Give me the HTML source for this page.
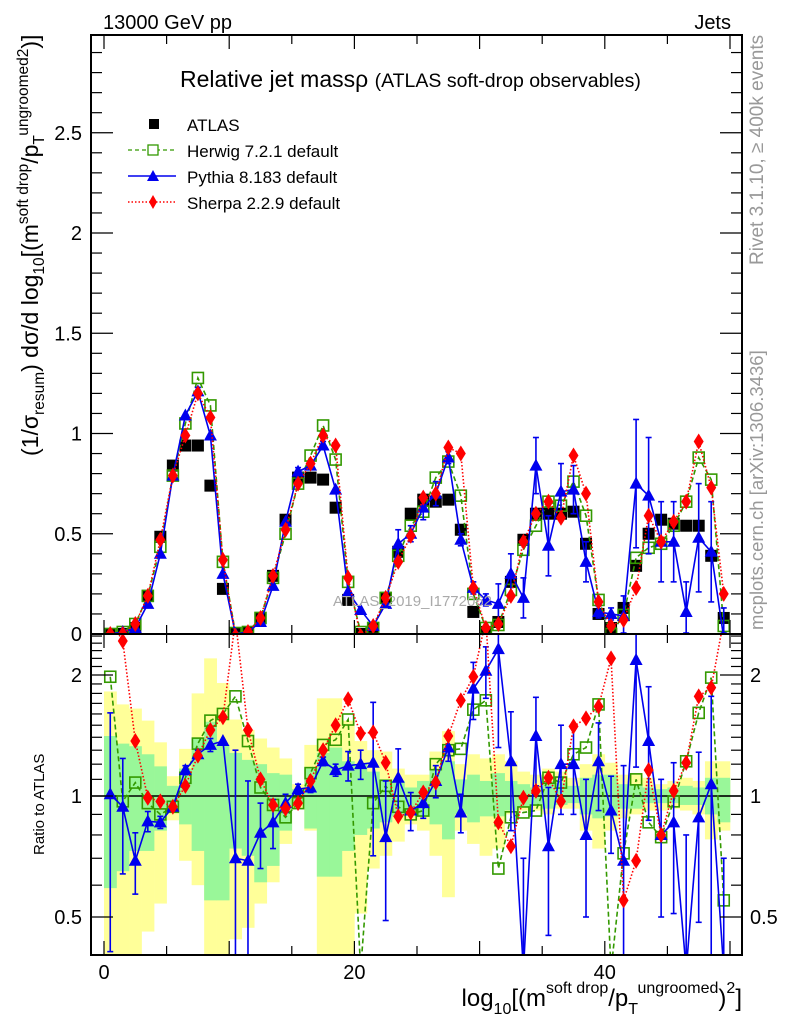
<!DOCTYPE html>
<html><head><meta charset="utf-8"><style>
html,body{margin:0;padding:0;background:#fff;width:786px;height:1024px;overflow:hidden;}
svg{display:block;font-family:"Liberation Sans",Arial,sans-serif;}
</style></head><body>
<svg id="chart" width="786" height="1024" viewBox="0 0 786 1024" xmlns="http://www.w3.org/2000/svg">
<defs>
<clipPath id="clipMain"><rect x="91" y="35" width="651" height="599"/></clipPath>
<clipPath id="clipRatio"><rect x="91" y="635" width="651" height="320"/></clipPath>
</defs>
<g id="ratioBands" clip-path="url(#clipRatio)"></g>
<g id="mainMarks" clip-path="url(#clipMain)"></g>
<g id="ratioMarks" clip-path="url(#clipRatio)"></g>
<g id="axes"></g>

<text x="103" y="29" font-size="20">13000 GeV pp</text>
<text x="731" y="29" font-size="20" text-anchor="end">Jets</text>
<text x="180" y="87" font-size="23">Relative jet massρ <tspan font-size="19.5">(ATLAS soft-drop observables)</tspan></text>
<text x="333" y="606" font-size="15" fill="#aaa">ATLAS_2019_I1772062</text>
<text transform="translate(763,265) rotate(-90)" font-size="19" fill="#999">Rivet 3.1.10, ≥ 400k events</text>
<text transform="translate(763,630) rotate(-90)" font-size="18.5" fill="#999">mcplots.cern.ch [arXiv:1306.3436]</text>
<text transform="translate(38,456) rotate(-90)" font-size="23">(1/σ<tspan font-size="15.5" dy="6">resum</tspan><tspan dy="-6">) dσ/d log</tspan><tspan font-size="15.5" dy="6">10</tspan><tspan dy="-6">[(m</tspan><tspan font-size="15.5" dy="-10">soft drop</tspan><tspan dy="10">/p</tspan><tspan font-size="15.5" dy="6">T</tspan><tspan font-size="15.5" dy="-16">ungroomed</tspan><tspan font-size="15.5">2</tspan><tspan dy="10">)]</tspan></text>
<text transform="translate(44,855) rotate(-90)" font-size="15">Ratio to ATLAS</text>
<text x="742" y="1006" font-size="24" text-anchor="end">log<tspan font-size="16" dy="8">10</tspan><tspan dy="-8">[(m</tspan><tspan font-size="16" dy="-13">soft drop</tspan><tspan dy="13">/p</tspan><tspan font-size="16" dy="8">T</tspan><tspan font-size="16" dy="-21">ungroomed</tspan><tspan dy="13">)</tspan><tspan font-size="16" dy="-13">2</tspan><tspan dy="13">]</tspan></text>

<g id="legend">
 <g><rect x="149" y="119" width="10" height="10" fill="#000"/><text x="187" y="131" font-size="17">ATLAS</text></g>
 <g><line x1="128" y1="150" x2="176" y2="150" stroke="#339900" stroke-width="1.3" stroke-dasharray="4,3"/><rect x="148" y="145" width="10" height="10" fill="#fff" stroke="#339900" stroke-width="1.3"/><text x="187" y="157" font-size="17">Herwig 7.2.1 default</text></g>
 <g><line x1="128" y1="176" x2="176" y2="176" stroke="#0000ee" stroke-width="1.5"/><polygon points="153,170 159,181 147,181" fill="#0000ee"/><text x="187" y="183" font-size="17">Pythia 8.183 default</text></g>
 <g><line x1="128" y1="202" x2="176" y2="202" stroke="#ff0000" stroke-width="1.5" stroke-dasharray="1.5,2"/><polygon points="153,195 157,202 153,209 149,202" fill="#ff0000"/><text x="187" y="209" font-size="17">Sherpa 2.2.9 default</text></g>
</g>
</svg>
<script>
// ---- data ----
const binCenters = Array.from({length:50},(_,i)=>i+0.5);
const atlasVals = [0,0,0.03,0.19,0.485,0.84,0.94,0.94,0.74,0.225,0,0.01,0.08,0.29,0.57,0.78,0.78,0.77,0.63,0.17,0,0.03,0.18,0.41,0.6,0.67,0.66,0.67,0.52,0.11,0.01,0.06,0.26,0.47,0.6,0.6,0.6,0.61,0.45,0.1,0.03,0.13,0.34,0.5,0.57,0.55,0.54,0.54,0.39,0.08];
const herwigVals = [0,0.01,0.05,0.19,0.435,0.79,1.05,1.277,1.14,0.36,0.005,0.01,0.08,0.28,0.5,0.75,0.89,1.04,0.87,0.26,0.01,0.03,0.18,0.39,0.54,0.61,0.78,0.86,0.69,0.2,0.03,0.045,0.22,0.42,0.54,0.66,0.64,0.76,0.59,0.17,0,0.095,0.38,0.43,0.45,0.54,0.66,0.88,0.77,0.04];
const pythiaVals = [0,0.01,0.03,0.15,0.4,0.79,1.09,1.21,0.99,0.3,0,0.01,0.06,0.24,0.56,0.81,0.84,0.94,0.72,0.21,0.12,0.04,0.15,0.45,0.5,0.63,0.7,0.88,0.47,0.23,0.17,0.15,0.3,0.18,0.84,0.44,0.71,0.72,0.36,0.11,0.1,0.09,0.75,0.69,0.46,0.46,0.11,0.48,0.41,-0.02];
const pythiaErr = [0,0,0,0,0,0,0,0.02,0,0,0,0,0,0,0,0.02,0.02,0.02,0,0,0,0,0.02,0.07,0.04,0.06,0.06,0.03,0.03,0.03,0.03,0.1,0.1,0.1,0.14,0.15,0.14,0.12,0.1,0.03,0.03,0.1,0.32,0.29,0.2,0.2,0.15,0.27,0.25,0.15];
const sherpaVals = [0,0,0.05,0.19,0.47,0.79,0.99,1.2,1.08,0.37,-0.01,0.01,0.08,0.29,0.52,0.75,0.85,0.99,0.94,0.28,-0.01,0.04,0.18,0.36,0.49,0.68,0.7,0.93,0.9,0.23,0.03,0.05,0.19,0.46,0.6,0.66,0.58,0.89,0.7,0.16,0.04,0.07,0.23,0.59,0.46,0.56,0.66,0.96,0.73,0.2];
const herwigRatio = [1.98,0.97,1.08,0.96,0.9,0.94,1.11,1.35,1.54,1.6,1.77,1.37,1.05,0.95,0.885,0.96,1.14,1.34,1.38,1.55,0.3,0.96,1.06,0.94,0.9,0.92,1.2,1.3,1.31,1.64,1.73,0.66,0.885,0.91,0.92,1.11,1.08,1.27,1.32,1.69,0.3,0.72,1.1,0.86,0.79,0.97,1.22,1.61,1.97,0.55];
const pythiaRatio = [1.01,0.94,0.69,0.865,0.86,0.94,1.16,1.27,1.34,1.37,0.7,0.69,0.81,0.86,0.96,1.04,1.05,1.22,1.16,1.19,1.2,1.21,0.79,1.11,0.92,0.96,1.09,1.32,0.91,1.85,2.05,2.32,1.22,0.3,1.41,0.75,1.2,1.2,0.8,1.22,0.92,0.69,2.18,1.37,0.8,0.86,0.3,0.885,1.07,0.3];
const pythiaRatioErr = [0.6,0.3,0.12,0.05,0.03,0.02,0.03,0.03,0.05,0,0.6,0.4,0.15,0.12,0.05,0.03,0.03,0.03,0.04,0.1,0.1,0.5,0.3,0.2,0.1,0.08,0.1,0.1,0.1,0.3,0.3,1,0.4,0.4,0.35,0.3,0.3,0.3,0.3,0.3,0.2,0.5,1,0.5,0.3,0.35,0.5,0.4,0.7,0.4];
const sherpaRatio = [3,2.43,1.37,0.99,0.97,0.94,1.06,1.26,1.46,1.57,3,1.46,1.1,0.95,0.93,0.96,1.09,1.3,1.5,1.74,1.43,1.44,1.21,0.89,0.91,1.02,1.08,1.41,1.73,1.98,3,0.86,0.75,0.99,1.03,1.11,0.97,1.49,1.56,1.67,2.2,0.55,0.69,1.16,0.8,1.03,1.21,1.77,1.86,3];
const yellowUp = [1.82,1.69,1.65,1.54,1.36,1.12,1.31,1.8,2.2,1.91,1.55,1.46,1.39,1.32,1.24,1.07,1.34,1.75,1.75,1.54,1.37,1.3,1.29,1.17,1.13,1.13,1.29,1.45,1.2,1.27,1.24,1.27,1.22,1.15,1.13,1.17,1.15,1.11,1.2,1.27,1.21,1.13,1.14,1.11,1.07,1.09,1.11,1.09,1.22,1.22];
const yellowDn = [0.4,0.4,0.4,0.46,0.54,0.87,0.69,0.6,0.4,0.4,0.44,0.47,0.54,0.61,0.76,0.93,0.82,0.4,0.4,0.4,0.51,0.66,0.71,0.77,0.85,0.82,0.71,0.56,0.82,0.76,0.71,0.74,0.9,0.92,0.92,0.9,0.93,0.93,0.82,0.74,0.82,0.88,0.9,0.92,0.92,0.93,0.92,0.9,0.78,0.82];
const greenUp = [1.41,1.35,1.33,1.27,1.185,1.06,1.17,1.39,1.53,1.34,1.28,1.23,1.2,1.14,1.13,1.04,1.17,1.28,1.32,1.22,1.2,1.15,1.1,1.09,1.05,1.09,1.16,1.22,1.1,1.13,1.09,1.14,1.09,1.07,1.05,1.09,1.08,1.06,1.11,1.13,1.13,1.07,1.07,1.05,1.04,1.05,1.06,1.05,1.11,1.11];
const greenDn = [0.59,0.65,0.73,0.73,0.82,0.93,0.85,0.73,0.55,0.55,0.74,0.71,0.61,0.67,0.82,0.96,0.83,0.63,0.63,0.73,0.8,0.83,0.86,0.89,0.92,0.89,0.85,0.78,0.9,0.86,0.89,0.89,0.92,0.94,0.95,0.93,0.95,0.96,0.9,0.88,0.89,0.93,0.93,0.96,0.96,0.96,0.95,0.95,0.9,0.86];
const mainYTicks = [0,0.5,1,1.5,2,2.5];
const mainYTickLabels = ["0","0.5","1","1.5","2","2.5"];
const ratioYTicks = [0.5,1,2];
const ratioYTickLabels = ["0.5","1","2"];
const xTicks = [0,20,40];
const xTickLabels = ["0","20","40"];

// ---- axes ----
const NS="http://www.w3.org/2000/svg";
const X0=91,X1=742,YT=35,YM=634,YB=955;
const xPx = v => 104 + 12.52*v;
const yMain = v => Math.min(Math.max(634 - 200.5*v, 20), 650);
const yRatio = r => Math.min(Math.max(796 - 121*Math.log2(Math.max(r,0.05)), 620), 970);
function mk(tag,attrs,parent){const e=document.createElementNS(NS,tag);for(const k in attrs)e.setAttribute(k,attrs[k]);parent.appendChild(e);return e;}

const axes=document.getElementById('axes');
const bands=document.getElementById('ratioBands');
binCenters.forEach((c,i)=>{
  const xl=xPx(c-0.5), w=12.52;
  const y=mk('rect',{x:xl,y:yRatio(yellowUp[i]),width:w+0.3,height:yRatio(yellowDn[i])-yRatio(yellowUp[i]),fill:'#ffff99'},bands);
  
  
});
binCenters.forEach((c,i)=>{
  const xl=xPx(c-0.5), w=12.52;
  const g=mk('rect',{x:xl,y:yRatio(greenUp[i]),width:w+0.3,height:yRatio(greenDn[i])-yRatio(greenUp[i]),fill:'#99f799'},bands);
  
  
});
const one=mk('line',{x1:X0,x2:X1,y1:yRatio(1),y2:yRatio(1),stroke:'#000','stroke-width':1.5},bands);



function marker(type,x,y,parent,color){
  let e;
  if(type==='sq') e=mk('rect',{x:x-6,y:y-6,width:12,height:12,fill:'#000'},parent);
  else if(type==='osq') e=mk('rect',{x:x-5.5,y:y-5.5,width:11,height:11,fill:'none',stroke:color,'stroke-width':1.6},parent);
  else if(type==='tri') e=mk('polygon',{points:`${x},${y-7} ${x+6.5},${y+5} ${x-6.5},${y+5}`,fill:color},parent);
  else e=mk('polygon',{points:`${x},${y-8} ${x+5},${y} ${x},${y+8} ${x-5},${y}`,fill:color},parent);
  return e;
}
function errbars(vals,errs,yf,parent,color,name,minLo){
  vals.forEach((v,i)=>{
    if(!errs[i]) return;
    const x=xPx(binCenters[i]);
    const lo=Math.max(v-errs[i],minLo), hi=v+errs[i];
    const g=mk('g',{stroke:color,'stroke-width':1.6},parent);
    
    
    mk('line',{x1:x,x2:x,y1:yf(lo),y2:yf(hi)},g);
    mk('line',{x1:x-3,x2:x+3,y1:yf(lo),y2:yf(lo)},g);
    mk('line',{x1:x-3,x2:x+3,y1:yf(hi),y2:yf(hi)},g);
  });
}
function series(vals,yf,parent,color,dash,mtype,name,line){
  const g=mk('g',{},parent);
  
  
  if(line){
    const pts=vals.map((v,i)=>xPx(binCenters[i])+','+yf(v)).join(' ');
    const pl=mk('polyline',{points:pts,fill:'none',stroke:color,'stroke-width':1.6,'stroke-dasharray':dash},g);
    
    
  }
  vals.forEach((v,i)=>{
    const m=marker(mtype,xPx(binCenters[i]),yf(v),g,color);
    
    
  });
}
const mainG=document.getElementById('mainMarks');
series(atlasVals,yMain,mainG,'#000','', 'sq','atlas-data',false);
series(herwigVals,yMain,mainG,'#339900','5,3','osq','herwig-series',true);
errbars(pythiaVals,pythiaErr,yMain,mainG,'#0000ee','pythia-error-bar',0.005);
series(pythiaVals,yMain,mainG,'#0000ee','','tri','pythia-series',true);
series(sherpaVals,yMain,mainG,'#ff0000','1.5,2','dia','sherpa-series',true);
const ratG=document.getElementById('ratioMarks');
series(herwigRatio,yRatio,ratG,'#339900','5,3','osq','herwig-ratio',true);
errbars(pythiaRatio,pythiaRatioErr,yRatio,ratG,'#0000ee','pythia-ratio-error-bar',0.38);
series(pythiaRatio,yRatio,ratG,'#0000ee','','tri','pythia-ratio',true);
series(sherpaRatio,yRatio,ratG,'#ff0000','1.5,2','dia','sherpa-ratio',true);

[[YT,YM,'main-frame'],[YM,YB,'ratio-frame']].forEach(([a,b,n])=>{
  const r=mk('rect',{x:X0,y:a,width:X1-X0,height:b-a,fill:'none',stroke:'#000','stroke-width':2},axes);
  
  
});
for(let v=0;v<=50;v+=5){
  const x=xPx(v), L=(v%10===0)?14:9;
  [[YT,1],[YM,-1],[YM,1],[YB,-1]].forEach(([y,d])=>mk('line',{x1:x,x2:x,y1:y,y2:y+d*L,stroke:'#000','stroke-width':1.2},axes));
}
xTicks.forEach((v,i)=>{
  const t=mk('text',{x:xPx(v),y:979,'font-size':20,'text-anchor':'middle'},axes);
  t.textContent=xTickLabels[i];
  
  
});
for(let k=0;k<=29;k++){
  const v=k/10, y=634-200.5*v, L=(k%5===0)?22:11;
  mk('line',{x1:X0,x2:X0+L,y1:y,y2:y,stroke:'#000','stroke-width':1.2},axes);
  mk('line',{x1:X1,x2:X1-L,y1:y,y2:y,stroke:'#000','stroke-width':1.2},axes);
}
mainYTicks.forEach((v,i)=>{
  const t=mk('text',{x:82,y:yMain(v)+7,'font-size':20,'text-anchor':'end'},axes);
  t.textContent=mainYTickLabels[i];
  
  
});
[0.5,0.6,0.7,0.8,0.9,1,1.1,1.2,1.3,1.4,1.5,1.6,1.7,1.8,1.9,2,2.1,2.2,2.3,2.4,2.5].forEach(v=>{
  const y=yRatio(v), L=(v===0.5||v===1||v===2)?22:11;
  mk('line',{x1:X0,x2:X0+L,y1:y,y2:y,stroke:'#000','stroke-width':1.2},axes);
  mk('line',{x1:X1,x2:X1-L,y1:y,y2:y,stroke:'#000','stroke-width':1.2},axes);
});
ratioYTicks.forEach((v,i)=>{
  const t=mk('text',{x:82,y:yRatio(v)+7,'font-size':20,'text-anchor':'end'},axes);
  t.textContent=ratioYTickLabels[i];
  
  
  const t2=mk('text',{x:750,y:yRatio(v)+7,'font-size':20},axes);
  t2.textContent=ratioYTickLabels[i];
  
  
});
</script>
</body></html>
